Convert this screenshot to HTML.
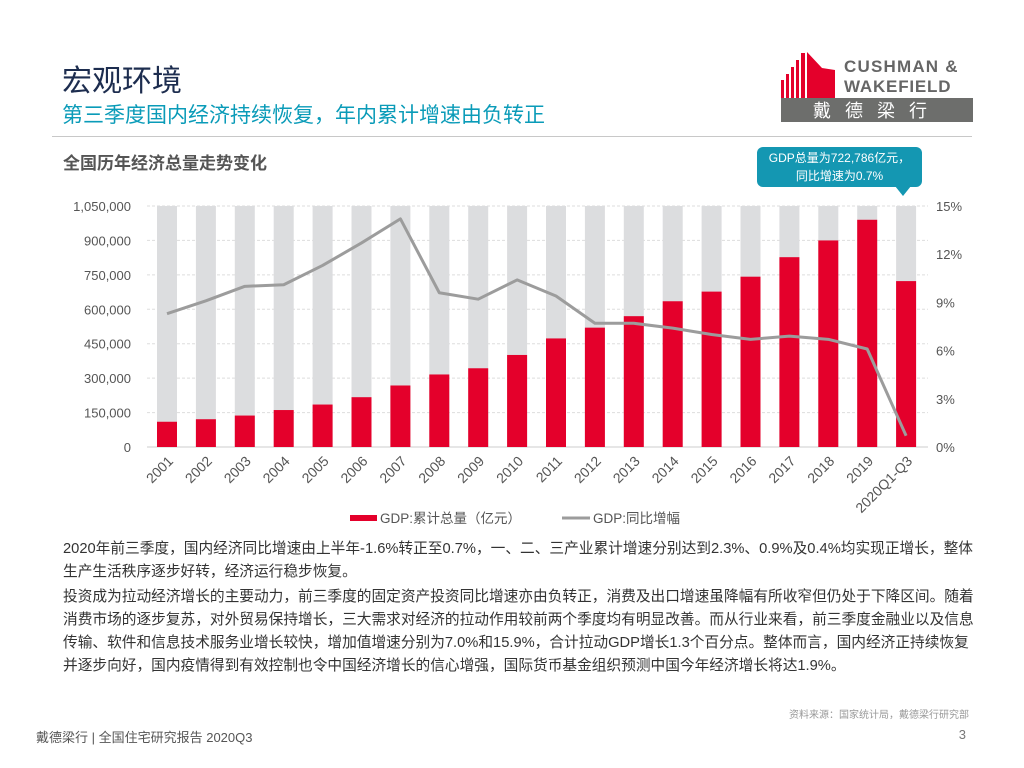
<!DOCTYPE html>
<html><head><meta charset="utf-8">
<style>
body{margin:0;background:#fff;}
#page{position:relative;width:1024px;height:768px;overflow:hidden;font-family:"Liberation Sans","Noto Sans CJK SC",sans-serif;}
.abs{position:absolute;white-space:nowrap;}
.para{position:absolute;left:63px;width:940px;font-size:14.7px;line-height:23px;color:#333;white-space:nowrap;}
</style></head>
<body>
<div id="page">
<div class="abs" style="left:62px;top:56px;font-size:30px;color:#1d2d4f;">宏观环境</div>
<div class="abs" style="left:62px;top:99px;font-size:21px;color:#0a9bb8;">第三季度国内经济持续恢复，年内累计增速由负转正</div>
<div style="position:absolute;left:52px;top:136px;width:920px;height:1px;background:#c8c8c8;"></div>

<svg style="position:absolute;left:778px;top:50px" width="200" height="75">
 <g fill="#e4002b">
  <rect x="3" y="30" width="3" height="20"/><rect x="8" y="24" width="3" height="26"/><rect x="13" y="17" width="3" height="33"/><rect x="18" y="10" width="3" height="40"/><rect x="23" y="3" width="4" height="47"/>
  <polygon points="29,2 29,50 57,50 57,20 44,18"/>
 </g>
 <text x="66" y="22" font-size="17" font-weight="bold" fill="#666" font-family="Liberation Sans,sans-serif" letter-spacing="1.2">CUSHMAN &amp;</text>
 <text x="66" y="42" font-size="17" font-weight="bold" fill="#666" font-family="Liberation Sans,sans-serif" letter-spacing="0.8">WAKEFIELD</text>
 <rect x="3" y="48" width="192" height="24" fill="#6d6e6c"/>
 <text x="99" y="67" font-size="18" fill="#fff" text-anchor="middle" letter-spacing="14" font-family="Noto Sans CJK SC,sans-serif">戴德梁行</text>
</svg>

<div class="abs" style="left:63px;top:149px;font-size:17px;font-weight:bold;color:#555;">全国历年经济总量走势变化</div>

<div style="position:absolute;left:757px;top:147px;width:165px;height:40px;background:#1497b2;border-radius:6px;color:#fff;font-size:12px;text-align:center;line-height:18px;padding-top:2px;box-sizing:border-box;">GDP总量为722,786亿元，<br>同比增速为0.7%</div>
<div style="position:absolute;left:895px;top:186px;width:0;height:0;border-left:8px solid transparent;border-right:8px solid transparent;border-top:10px solid #1497b2;"></div>

<svg id="chart" style="position:absolute;left:0;top:190px" width="1024" height="345"></svg>

<div class="para" style="top:538px;">2020年前三季度，国内经济同比增速由上半年-1.6%转正至0.7%，一、二、三产业累计增速分别达到2.3%、0.9%及0.4%均实现正增长，整体<br>生产生活秩序逐步好转，经济运行稳步恢复。</div>
<div class="para" style="top:586px;">投资成为拉动经济增长的主要动力，前三季度的固定资产投资同比增速亦由负转正，消费及出口增速虽降幅有所收窄但仍处于下降区间。随着<br>消费市场的逐步复苏，对外贸易保持增长，三大需求对经济的拉动作用较前两个季度均有明显改善。而从行业来看，前三季度金融业以及信息<br>传输、软件和信息技术服务业增长较快，增加值增速分别为7.0%和15.9%，合计拉动GDP增长1.3个百分点。整体而言，国内经济正持续恢复<br>并逐步向好，国内疫情得到有效控制也令中国经济增长的信心增强，国际货币基金组织预测中国今年经济增长将达1.9%。</div>

<div class="abs" style="right:55px;top:706px;font-size:10px;color:#999;">资料来源：国家统计局，戴德梁行研究部</div>
<div class="abs" style="left:36px;top:727px;font-size:13px;color:#555;">戴德梁行 | 全国住宅研究报告 2020Q3</div>
<div class="abs" style="right:58px;top:727px;font-size:13px;color:#777;">3</div>
</div>
<script>
const categories=["2001","2002","2003","2004","2005","2006","2007","2008","2009","2010","2011","2012","2013","2014","2015","2016","2017","2018","2019","2020Q1-Q3"];
const gdpTotal=[110000,121000,137000,161000,185000,217000,268000,316000,343000,401000,473000,520000,570000,635000,677000,742000,827000,900000,990000,722786];
const gdpGrowth=[8.3,9.1,10.0,10.1,11.3,12.7,14.2,9.6,9.2,10.4,9.4,7.7,7.7,7.4,7.0,6.7,6.9,6.7,6.1,0.7];
const leftTicks=[0,150000,300000,450000,600000,750000,900000,1050000];
const rightTicks=[0,3,6,9,12,15];
const svg=document.getElementById('chart');
const NS='http://www.w3.org/2000/svg';
const OY=190, plotTop=206-OY, plotBot=447-OY, x0=147, pitch=38.9, bw=20;
const yL=v=>plotBot-(v/1050000)*(plotBot-plotTop);
const yR=v=>plotBot-(v/15)*(plotBot-plotTop);
const xC=i=>x0+20+i*pitch;
function mk(t,a){const e=document.createElementNS(NS,t);for(const k in a)e.setAttribute(k,a[k]);svg.appendChild(e);return e;}
leftTicks.forEach((t,i)=>{
 const g=mk('line',{x1:x0,x2:928,y1:yL(t),y2:yL(t),stroke:i?'#ddd':'#ccc','stroke-dasharray':i?'3,2':'0','stroke-width':1});
 
 
 const tx=mk('text',{x:131,y:yL(t)+5,'text-anchor':'end','font-size':13,fill:'#555','font-family':'Liberation Sans,sans-serif'});
 tx.textContent=t.toLocaleString('en-US');
 
 
});
rightTicks.forEach(t=>{
 const tx=mk('text',{x:936,y:yR(t)+5,'font-size':13,fill:'#555','font-family':'Liberation Sans,sans-serif'});
 tx.textContent=t+'%';
 
 
});
categories.forEach((c,i)=>{
 const bg=mk('rect',{x:xC(i)-bw/2,y:plotTop,width:bw,height:plotBot-plotTop,fill:'#dcdddf'});
 
 
 const b=mk('rect',{x:xC(i)-bw/2,y:yL(gdpTotal[i]),width:bw,height:plotBot-yL(gdpTotal[i]),fill:'#e4002b'});
 
 
 const tx=mk('text',{x:xC(i)+7,y:plotBot+15,'text-anchor':'end','font-size':14,fill:'#555','font-family':'Liberation Sans,sans-serif',transform:`rotate(-45 ${xC(i)+7} ${plotBot+15})`});
 tx.textContent=c;
 
 
});
const pts=gdpGrowth.map((v,i)=>xC(i)+','+yR(v)).join(' ');
const ln=mk('polyline',{points:pts,fill:'none',stroke:'#9c9c9c','stroke-width':3,'stroke-linejoin':'round'});


const ly=518-OY;
const s1=mk('rect',{x:350,y:ly-3,width:27,height:6,fill:'#e4002b'});


const t1=mk('text',{x:380,y:ly+5,'font-size':13.5,fill:'#555','font-family':'Liberation Sans,Noto Sans CJK SC,sans-serif'});
t1.textContent='GDP:累计总量（亿元）';


const s2=mk('line',{x1:562,x2:590,y1:ly,y2:ly,stroke:'#9c9c9c','stroke-width':3});


const t2=mk('text',{x:593,y:ly+5,'font-size':13.5,fill:'#555','font-family':'Liberation Sans,Noto Sans CJK SC,sans-serif'});
t2.textContent='GDP:同比增幅';


</script>
</body></html>
